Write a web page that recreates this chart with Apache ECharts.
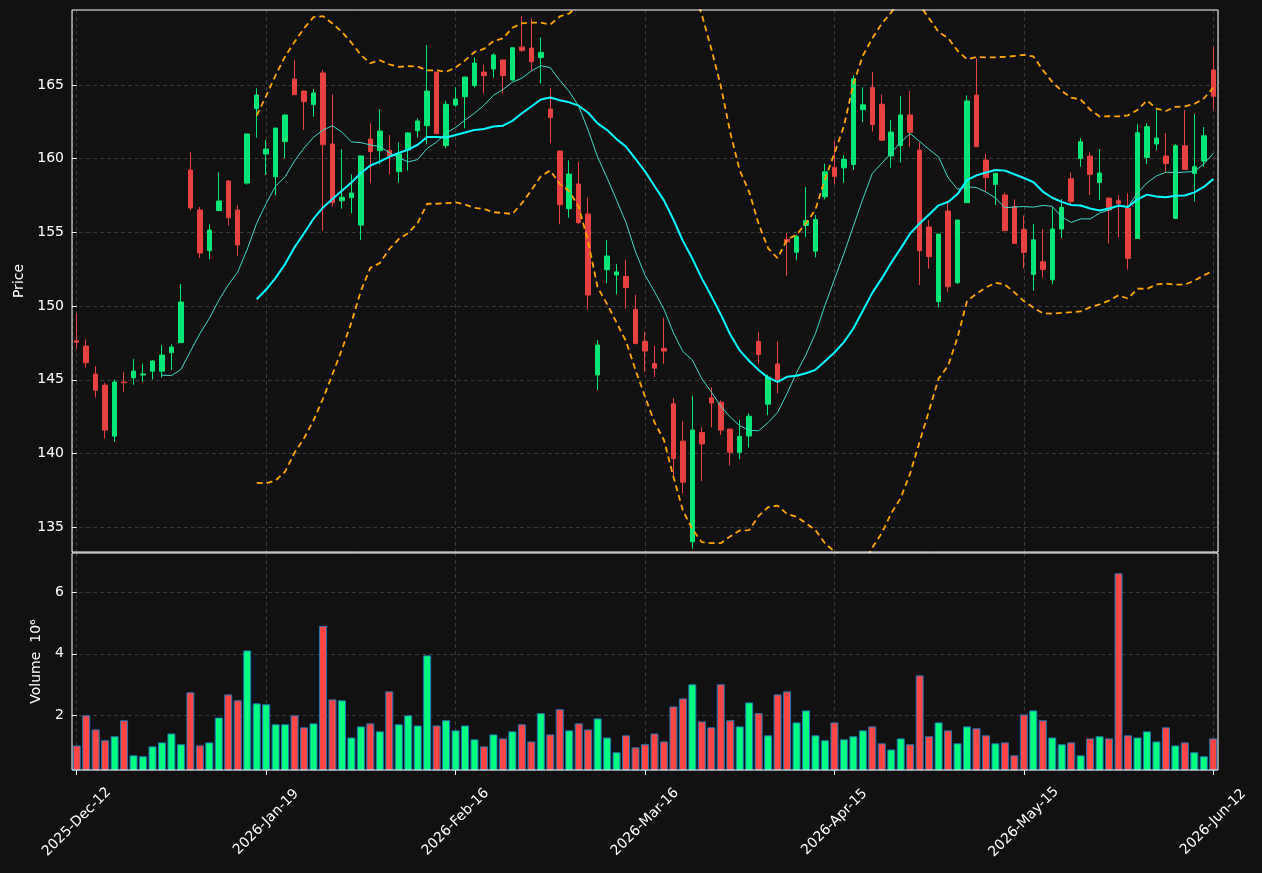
<!DOCTYPE html>
<html>
<head>
<meta charset="utf-8">
<script src="https://cdn.jsdelivr.net/npm/echarts@6/dist/echarts.min.js"></script>
<style>
html, body { margin: 0; padding: 0; background: #111111; }
#chart { width: 1262px; height: 873px; }
</style>
</head>
<body>
<div id="chart"></div>
<script>
// x轴刻度文字（每20根K线一个）
var tickLabels = ['2025-Dec-12', '2026-Jan-19', '2026-Feb-16', '2026-Mar-16', '2026-Apr-15', '2026-May-15', '2026-Jun-12'];
var tickStep = 20;
var priceTicks = [135, 140, 145, 150, 155, 160, 165];
var volumeTicks = [2, 4, 6];

// 开盘价
var open = [147.65, 147.29, 145.39, 144.64, 141.18, 144.85, 145.14, 145.33, 145.59, 145.59,
	146.84, 147.52, 159.23, 156.52, 153.76, 156.48, 158.49, 156.52, 158.35, 163.40,
	160.32, 158.78, 161.16, 165.41, 164.59, 163.67, 165.82, 161.00, 157.15, 157.36,
	155.50, 161.34, 160.55, 160.57, 159.12, 160.59, 161.90, 162.24, 165.88, 160.89,
	163.64, 164.21, 164.96, 165.88, 166.09, 166.70, 165.34, 167.58, 167.51, 166.86,
	163.37, 160.52, 156.61, 158.29, 156.25, 145.33, 152.47, 152.11, 152.01, 149.78,
	147.61, 146.11, 147.14, 143.38, 140.84, 134.01, 141.42, 143.78, 143.47, 141.66,
	140.08, 141.19, 147.61, 143.35, 146.08, 154.53, 153.66, 155.47, 153.73, 157.42,
	159.42, 159.38, 159.61, 163.33, 164.84, 163.70, 160.19, 160.89, 162.97, 160.59,
	155.37, 150.30, 156.45, 151.59, 157.02, 164.32, 159.91, 158.26, 157.54, 156.75,
	155.20, 152.15, 153.01, 151.79, 155.23, 158.64, 160.02, 160.18, 158.39, 157.33,
	157.15, 156.63, 154.59, 160.09, 161.00, 160.18, 155.95, 160.88, 159.00, 159.84,
	166.02];
// 收盘价
var close = [147.55, 146.16, 144.30, 141.59, 144.85, 144.80, 145.59, 145.40, 146.27, 146.68,
	147.22, 150.28, 156.66, 153.60, 155.16, 157.13, 156.00, 154.15, 161.68, 164.32,
	160.66, 162.08, 162.97, 164.35, 163.87, 164.46, 160.95, 157.02, 157.38, 157.67,
	160.19, 160.48, 161.88, 160.21, 160.32, 161.75, 162.56, 164.59, 161.70, 163.69,
	164.05, 165.54, 166.49, 165.64, 167.04, 165.64, 167.53, 167.35, 166.58, 167.22,
	162.79, 156.88, 158.96, 155.66, 150.75, 147.36, 153.40, 152.32, 151.26, 147.47,
	146.95, 145.78, 146.95, 139.66, 138.06, 141.59, 140.65, 143.42, 141.59, 140.08,
	141.16, 142.53, 146.72, 145.19, 145.02, 154.36, 154.72, 155.80, 155.87, 159.12,
	158.79, 159.96, 165.42, 163.66, 162.32, 161.25, 161.81, 162.97, 161.79, 153.76,
	153.36, 154.89, 151.32, 155.84, 163.92, 160.82, 158.72, 159.01, 155.12, 154.26,
	153.65, 154.50, 152.49, 155.23, 156.70, 157.10, 161.15, 158.94, 159.03, 156.52,
	156.97, 153.24, 161.76, 162.17, 161.40, 159.68, 160.88, 159.28, 159.46, 161.56,
	164.23];
// 最低价
var low = [147.13, 145.84, 143.80, 141.02, 140.80, 144.19, 144.66, 144.87, 145.03, 145.16,
	145.66, 147.52, 156.50, 153.26, 153.17, 156.48, 155.46, 153.42, 158.24, 161.43,
	158.90, 157.52, 160.03, 164.30, 161.95, 162.85, 155.12, 156.75, 156.61, 156.30,
	154.49, 158.33, 159.62, 158.94, 158.38, 159.19, 161.45, 160.98, 161.68, 160.71,
	163.53, 162.06, 164.82, 164.44, 165.50, 164.44, 165.30, 167.26, 166.02, 165.11,
	161.04, 155.55, 156.00, 155.60, 149.78, 144.31, 151.55, 150.80, 149.82, 147.40,
	145.54, 145.19, 146.08, 138.48, 137.31, 133.54, 138.13, 141.78, 141.26, 139.19,
	139.61, 140.41, 146.08, 142.60, 144.08, 152.06, 153.12, 154.67, 153.31, 157.24,
	158.25, 158.36, 159.24, 162.48, 161.85, 161.20, 159.39, 159.73, 160.82, 151.43,
	152.54, 149.90, 150.98, 151.50, 157.00, 160.80, 157.77, 156.86, 155.10, 154.24,
	152.55, 151.04, 151.95, 151.49, 154.62, 156.92, 159.46, 157.53, 157.19, 154.25,
	154.66, 152.49, 154.57, 159.64, 160.59, 159.03, 155.93, 159.26, 157.10, 159.46,
	163.37];
// 最高价
var high = [149.51, 147.74, 145.93, 144.80, 145.03, 145.55, 146.41, 146.11, 146.34, 147.36,
	147.42, 151.50, 160.45, 156.72, 155.55, 159.08, 158.55, 156.84, 161.70, 164.78,
	161.27, 162.10, 163.00, 166.70, 164.62, 164.73, 166.02, 164.37, 160.64, 158.94,
	160.22, 162.40, 163.37, 161.61, 161.11, 161.78, 162.74, 167.72, 165.90, 163.94,
	164.84, 165.56, 166.88, 166.40, 167.15, 166.72, 167.55, 169.68, 169.52, 168.24,
	164.78, 160.55, 159.89, 159.78, 157.38, 147.70, 154.49, 152.86, 153.16, 150.76,
	148.25, 147.31, 149.21, 143.78, 142.18, 143.94, 141.78, 144.48, 143.60, 141.70,
	142.29, 142.72, 148.25, 145.35, 147.61, 154.95, 154.84, 158.08, 156.18, 159.66,
	161.24, 160.25, 165.66, 164.84, 165.89, 164.35, 162.63, 164.26, 164.59, 161.11,
	155.84, 154.92, 157.02, 155.86, 164.30, 166.81, 160.32, 159.03, 157.70, 157.25,
	156.15, 155.57, 155.23, 156.70, 157.26, 159.07, 161.40, 160.43, 160.66, 157.35,
	157.53, 157.65, 162.35, 162.40, 163.37, 161.74, 161.00, 163.30, 163.03, 162.15,
	167.58];
// 成交量（单位 10^6）
var volume = [1.02, 2.00, 1.54, 1.19, 1.32, 1.84, 0.70, 0.67, 0.99, 1.12,
	1.41, 1.06, 2.75, 1.02, 1.12, 1.93, 2.68, 2.49, 4.11, 2.39,
	2.36, 1.71, 1.71, 2.00, 1.61, 1.74, 4.91, 2.52, 2.49, 1.28,
	1.64, 1.74, 1.48, 2.78, 1.71, 2.00, 1.67, 3.95, 1.67, 1.84,
	1.51, 1.67, 1.22, 0.99, 1.38, 1.25, 1.48, 1.71, 1.15, 2.07,
	1.38, 2.20, 1.51, 1.74, 1.54, 1.90, 1.28, 0.80, 1.35, 0.96,
	1.06, 1.41, 1.15, 2.29, 2.55, 3.01, 1.80, 1.61, 3.01, 1.84,
	1.64, 2.42, 2.07, 1.35, 2.68, 2.78, 1.77, 2.16, 1.35, 1.19,
	1.77, 1.22, 1.32, 1.51, 1.64, 1.09, 0.89, 1.25, 1.06, 3.30,
	1.32, 1.77, 1.51, 1.09, 1.64, 1.58, 1.35, 1.09, 1.12, 0.70,
	2.03, 2.16, 1.84, 1.28, 1.06, 1.12, 0.70, 1.25, 1.32, 1.25,
	6.62, 1.35, 1.28, 1.48, 1.15, 1.61, 1.02, 1.12, 0.80, 0.67,
	1.25];

// 颜色
var upCandle = '#02e775';
var downCandle = '#e74141';
var upVol = '#00ff80';
var downVol = '#ff4646';
var fontName = 'DejaVu Sans';

//简单移动平均
function sma(src, n) {
	return src.map(function(v, i) {
		if (i < n - 1) return null;
		var s = 0;
		for (var j = i - n + 1; j <= i; j++) s += src[j];
		return +(s / n).toFixed(3);
	});
}
//布林带（总体标准差）
function band(src, n, k) {
	var mid = sma(src, n);
	return src.map(function(v, i) {
		if (mid[i] == null) return null;
		var s = 0;
		for (var j = i - n + 1; j <= i; j++) s += Math.pow(src[j] - mid[i], 2);
		return +(mid[i] + k * Math.sqrt(s / n)).toFixed(3);
	});
}

var idx = close.map(function(v, i) { return i; });
var candles = open.map(function(o, i) { return [o, close[i], low[i], high[i]]; });
var volBars = volume.map(function(v, i) {
	return { value: v, itemStyle: { color: close[i] >= open[i] ? upVol : downVol } };
});
var xTickValues = tickLabels.map(function(t, i) { return i * tickStep; });

var gridLine = { show: true, lineStyle: { color: '#3a3a3a', type: [4, 3], width: 1 } };

var chart = echarts.init(document.getElementById('chart'));
chart.setOption({
	animation: false,
	backgroundColor: '#111111',
	textStyle: { fontFamily: fontName },
	//边框放在分隔线上面
	grid: [
		{ left: 72, right: 44, top: 10, height: 542, show: true, z: 10, borderColor: '#ffffff', borderWidth: 1, backgroundColor: 'transparent' },
		{ left: 72, right: 44, top: 553, height: 217, show: true, z: 10, borderColor: '#ffffff', borderWidth: 1, backgroundColor: 'transparent' }
	],
	xAxis: [
		{ type: 'category', gridIndex: 0, position: 'top', data: idx, boundaryGap: true, show: false },
		{ type: 'category', gridIndex: 1, position: 'top', data: idx, boundaryGap: true, show: false },
		{
			type: 'value', gridIndex: 0, position: 'bottom', min: -0.5, max: idx.length - 0.5,
			axisLine: { show: false },
			axisTick: { show: false },
			axisLabel: { show: false },
			splitLine: gridLine
		},
		{
			type: 'value', gridIndex: 1, position: 'bottom', min: -0.5, max: idx.length - 0.5,
			axisLine: { show: false },
			axisTick: { show: true, length: 5, lineStyle: { color: '#ffffff' }, customValues: xTickValues },
			axisLabel: {
				color: '#ffffff', fontSize: 14, rotate: 45, margin: 52,
				align: 'center', verticalAlign: 'middle',
				customValues: xTickValues,
				formatter: function(v) { return tickLabels[Math.round(v / tickStep)]; }
			},
			splitLine: gridLine
		}
	],
	yAxis: [
		{
			type: 'value', gridIndex: 0, min: 133.32, max: 170.09, splitNumber: 7,
			name: 'Price', nameLocation: 'middle', nameGap: 46,
			nameTextStyle: { color: '#ffffff', fontSize: 14 },
			axisLine: { show: false },
			axisTick: { show: true, length: 5, lineStyle: { color: '#ffffff' }, customValues: priceTicks },
			axisLabel: { color: '#ffffff', fontSize: 14, margin: 8, customValues: priceTicks },
			splitLine: gridLine
		},
		{
			type: 'value', gridIndex: 1, min: 0.222, max: 7.28, splitNumber: 4,
			name: 'Volume  10\u2076', nameLocation: 'middle', nameGap: 29,
			nameTextStyle: { color: '#ffffff', fontSize: 14 },
			axisLine: { show: false },
			axisTick: { show: true, length: 5, lineStyle: { color: '#ffffff' }, customValues: volumeTicks },
			axisLabel: { color: '#ffffff', fontSize: 14, margin: 8, customValues: volumeTicks },
			splitLine: gridLine
		}
	],
	series: [
		{
			name: 'OHLC', type: 'candlestick', xAxisIndex: 0, yAxisIndex: 0,
			data: candles, barWidth: 5,
			itemStyle: { color: upCandle, color0: downCandle, borderColor: upCandle, borderColor0: downCandle, borderWidth: 1 },
			z: 2
		},
		{
			name: 'MA10', type: 'line', xAxisIndex: 0, yAxisIndex: 0, data: sma(close, 10),
			symbol: 'none', lineStyle: { color: '#40d8c8', width: 1 }, z: 3
		},
		{
			name: 'MA20', type: 'line', xAxisIndex: 0, yAxisIndex: 0, data: sma(close, 20),
			symbol: 'none', lineStyle: { color: '#00ffff', width: 2 }, z: 4
		},
		{
			name: 'Upper', type: 'line', xAxisIndex: 0, yAxisIndex: 0, data: band(close, 20, 2),
			symbol: 'none', lineStyle: { color: '#ffa500', width: 1.8, type: [6, 4] }, z: 4
		},
		{
			name: 'Lower', type: 'line', xAxisIndex: 0, yAxisIndex: 0, data: band(close, 20, -2),
			symbol: 'none', lineStyle: { color: '#ffa500', width: 1.8, type: [6, 4] }, z: 4
		},
		{
			name: 'Volume', type: 'bar', xAxisIndex: 1, yAxisIndex: 1, data: volBars,
			barWidth: 8, itemStyle: { borderColor: '#1f77b4', borderWidth: 1 }
		}
	]
});
</script>
</body>
</html>
